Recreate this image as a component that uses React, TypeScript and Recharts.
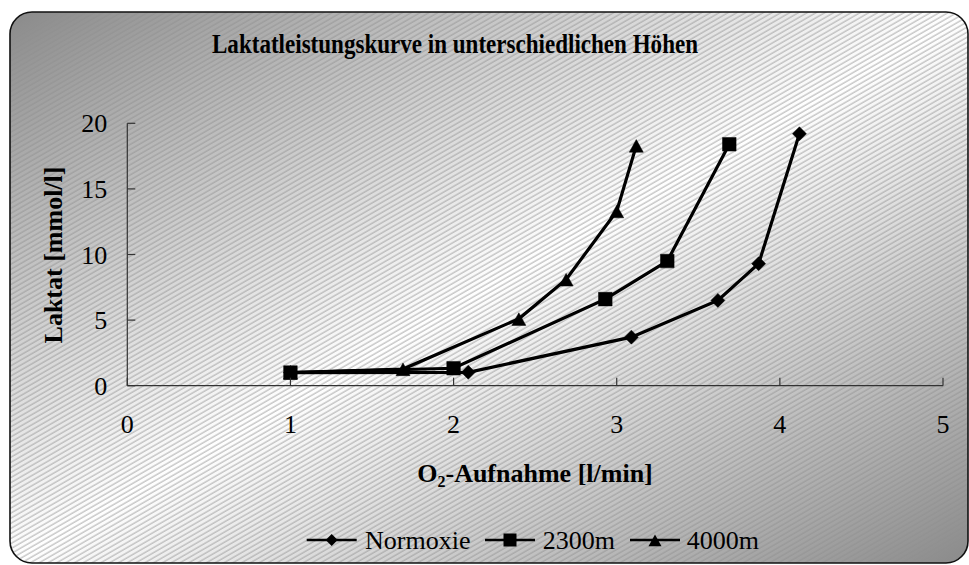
import React from "react";
import { LineChart, Line, XAxis, YAxis } from "recharts";

// ---- Data ----
const normoxieO2 = [1.0, 2.09, 3.09, 3.62, 3.87, 4.12];
const normoxieLaktat = [1.0, 1.02, 3.7, 6.5, 9.3, 19.2];

const hoehe2300O2 = [1.0, 2.0, 2.93, 3.31, 3.69];
const hoehe2300Laktat = [1.0, 1.33, 6.6, 9.5, 18.4];

const hoehe4000O2 = [1.0, 1.69, 2.4, 2.69, 3.0, 3.12];
const hoehe4000Laktat = [1.0, 1.27, 5.1, 8.1, 13.3, 18.3];

const xTicks = [0, 1, 2, 3, 4, 5];
const yTicks = [0, 5, 10, 15, 20];

const seriesNames = ["Normoxie", "2300m", "4000m"];
const titleText = "Laktatleistungskurve in unterschiedlichen Höhen";
const yLabelText = "Laktat [mmol/l]";

const toPoints = (xs: number[], ys: number[]) => xs.map((x, i) => ({ x, y: ys[i] }));

const FONT = "'Liberation Serif', 'Times New Roman', 'DejaVu Serif', serif";
const W = 969;
const H = 565;

// ---- Marker shapes ----
const diamondPath = (cx: number, cy: number, r: number) =>
  `M${cx},${cy - r} L${cx + r},${cy} L${cx},${cy + r} L${cx - r},${cy} Z`;
const squarePath = (cx: number, cy: number, r: number) =>
  `M${cx - r},${cy - r} L${cx + r},${cy - r} L${cx + r},${cy + r} L${cx - r},${cy + r} Z`;
const trianglePath = (cx: number, cy: number, r: number) =>
  `M${cx},${cy - r} L${cx + r},${cy + r * 0.8} L${cx - r},${cy + r * 0.8} Z`;

const makeDot = (kind: "diamond" | "square" | "triangle") => (p: any) => {
  const { cx, cy, index } = p;
  if (cx == null || cy == null) return <g key={`e-${kind}-${index}`} />;
  const d =
    kind === "diamond"
      ? diamondPath(cx, cy, 7)
      : kind === "square"
      ? squarePath(cx, cy, 6.8)
      : trianglePath(cx, cy + 1, 7);
  return <path key={`${kind}-${index}`} d={d} fill="#000" stroke="#000" strokeWidth={0.5} />;
};

const YTick = (props: any) => {
  const { x, y, payload } = props;
  return (
    <g>
      <line x1={x} x2={x + 8} y1={y} y2={y} stroke="#333" strokeWidth={1.2} />
      <text x={x - 20} y={y + 9} textAnchor="end" fontSize={26} fontFamily={FONT} fill="#000">
        {payload.value}
      </text>
    </g>
  );
};

const XTick = (props: any) => {
  const { x, y, payload } = props;
  return (
    <g>
      <line x1={x} x2={x} y1={y} y2={y - 8} stroke="#333" strokeWidth={1.2} />
      <text x={x} y={y + 47} textAnchor="middle" fontSize={26} fontFamily={FONT} fill="#000">
        {payload.value}
      </text>
    </g>
  );
};

const Background = () => {
  const legendItems = [
    { name: seriesNames[0], kind: "diamond", lineX: 306.7, textX: 365 },
    { name: seriesNames[1], kind: "square", lineX: 485, textX: 542.7 },
    { name: seriesNames[2], kind: "triangle", lineX: 630, textX: 686.7 },
  ];
  const ly = 540;
  return (
    <svg width={W} height={H} style={{ position: "absolute", left: 0, top: 0 }}>
      <defs>
        <linearGradient id="bgGrad" x1="0" y1="0" x2="1" y2="1">
          <stop offset="0" stopColor="#8a8a8a" />
          <stop offset="0.5" stopColor="#ffffff" />
          <stop offset="1" stopColor="#8a8a8a" />
        </linearGradient>
        <pattern
          id="hatch"
          patternUnits="userSpaceOnUse"
          width="8"
          height="4.4"
          patternTransform="rotate(-30)"
        >
          <line x1="0" y1="1" x2="8" y2="1" stroke="#8c8c8c" strokeWidth="1.3" strokeOpacity="0.55" />
        </pattern>
        <clipPath id="frameClip">
          <rect x={10} y={12} width={958} height={551} rx={22} ry={22} />
        </clipPath>
      </defs>
      <g clipPath="url(#frameClip)">
        <rect x={10} y={12} width={958} height={551} fill="url(#bgGrad)" />
        <rect x={10} y={12} width={958} height={551} fill="url(#hatch)" />
      </g>
      <rect x={10} y={12} width={958} height={551} rx={22} ry={22} fill="none" stroke="#111" strokeWidth={1.6} />

      <text
        x={455}
        y={53}
        textAnchor="middle"
        fontSize={27}
        fontWeight="bold"
        fontFamily={FONT}
        fill="#000"
        textLength={486}
        lengthAdjust="spacingAndGlyphs"
      >
        {titleText}
      </text>

      <text x={535} y={482} textAnchor="middle" fontSize={26} fontWeight="bold" fontFamily={FONT} fill="#000">
        O<tspan fontSize={16} dy={5}>2</tspan>
        <tspan dy={-5}>-Aufnahme [l/min]</tspan>
      </text>

      <text
        transform="translate(62,255) rotate(-90)"
        textAnchor="middle"
        fontSize={26}
        fontWeight="bold"
        fontFamily={FONT}
        fill="#000"
      >
        {yLabelText}
      </text>

      {legendItems.map((it) => {
        const mx = it.lineX + 25;
        const d =
          it.kind === "diamond"
            ? diamondPath(mx, ly, 6)
            : it.kind === "square"
            ? squarePath(mx, ly, 6.5)
            : trianglePath(mx, ly + 1, 6.5);
        return (
          <g key={it.name}>
            <line x1={it.lineX} x2={it.lineX + 50} y1={ly} y2={ly} stroke="#000" strokeWidth={2.4} />
            <path d={d} fill="#000" />
            <text x={it.textX} y={ly + 9} fontSize={26} fontFamily={FONT} fill="#000">
              {it.name}
            </text>
          </g>
        );
      })}
    </svg>
  );
};

export default function App() {
  const plotLeft = 127.3;
  const plotRight = 943;
  const plotTop = 123.3;
  const plotBottom = 385.7;
  const yAxisWidth = 60;
  const xAxisHeight = 30;
  return (
    <div style={{ position: "absolute", left: 0, top: 0, width: W, height: H }}>
      <Background />
      <div style={{ position: "absolute", left: 0, top: 0 }}>
        <LineChart
          width={W}
          height={H}
          margin={{
            top: plotTop,
            right: W - plotRight,
            bottom: H - plotBottom - xAxisHeight,
            left: plotLeft - yAxisWidth,
          }}
        >
          <XAxis
            type="number"
            dataKey="x"
            domain={[0, 5]}
            ticks={xTicks}
            allowDataOverflow
            height={xAxisHeight}
            tickSize={0}
            tickMargin={0}
            tickLine={false}
            axisLine={{ stroke: "#333", strokeWidth: 1.2 }}
            tick={<XTick />}
            interval={0}
          />
          <YAxis
            type="number"
            dataKey="y"
            domain={[0, 20]}
            ticks={yTicks}
            allowDataOverflow
            width={yAxisWidth}
            tickSize={0}
            tickMargin={0}
            tickLine={false}
            axisLine={{ stroke: "#333", strokeWidth: 1.2 }}
            tick={<YTick />}
            interval={0}
          />
          <Line
            data={toPoints(normoxieO2, normoxieLaktat)}
            dataKey="y"
            name={seriesNames[0]}
            type="linear"
            stroke="#000"
            strokeWidth={3.2}
            dot={makeDot("diamond")}
            activeDot={false}
            isAnimationActive={false}
          />
          <Line
            data={toPoints(hoehe4000O2, hoehe4000Laktat)}
            dataKey="y"
            name={seriesNames[2]}
            type="linear"
            stroke="#000"
            strokeWidth={3.2}
            dot={makeDot("triangle")}
            activeDot={false}
            isAnimationActive={false}
          />
          <Line
            data={toPoints(hoehe2300O2, hoehe2300Laktat)}
            dataKey="y"
            name={seriesNames[1]}
            type="linear"
            stroke="#000"
            strokeWidth={3.2}
            dot={makeDot("square")}
            activeDot={false}
            isAnimationActive={false}
          />
        </LineChart>
      </div>
    </div>
  );
}
